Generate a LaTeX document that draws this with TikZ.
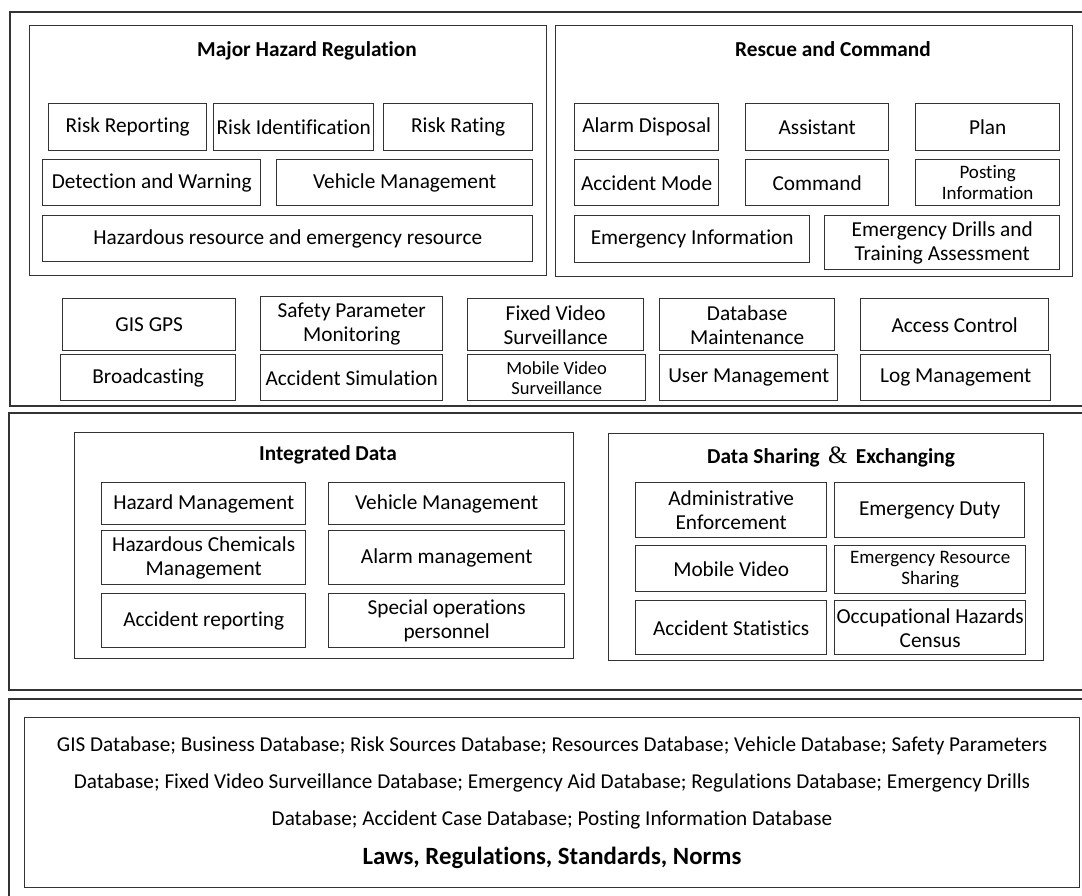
\documentclass[tikz,border=0pt]{standalone}
\usepackage{fontspec}
\setmainfont{Carlito}[Ligatures=NoCommon]
\newfontfamily\ampfont{Liberation Serif}
\usetikzlibrary{positioning}
\tikzset{
x=1pt, y=-1pt, % one unit per pixel, y grows downwards
panel/.style={draw=black!80, line width=1.4pt}, % the three open outer panels
cell/.style 2 args={draw=black!80, line width=1.4pt, minimum width=#1, minimum height=#2,
  inner sep=1pt, align=center, anchor=north west, font=\fontsize{21.3}{24}\selectfont}, % boxes
small/.style={font=\fontsize{18.5}{20}\selectfont}, % boxes with smaller text
title/.style={font=\bfseries\fontsize{21.3}{24}\selectfont}, % group headings
}

\begin{document}
\begin{tikzpicture}
    \useasboundingbox (0,0) rectangle (1082,896);

    % outer panels, open on the right
    \coordinate (p1a) at (1082,12);  \coordinate (p1b) at (10,12);
    \coordinate (p1c) at (10,406);   \coordinate (p1d) at (1082,406);
    \coordinate (p2a) at (1082,413); \coordinate (p2b) at (9,413);
    \coordinate (p2c) at (9,690);    \coordinate (p2d) at (1082,690);
    \coordinate (p3a) at (1082,699); \coordinate (p3b) at (9,699);
    \coordinate (p3c) at (9,896);
    \draw[panel] (p1a) -- (p1b) -- (p1c) -- (p1d);
    \draw[panel] (p2a) -- (p2b) -- (p2c) -- (p2d);
    \draw[panel] (p3a) -- (p3b) -- (p3c);

    % Major Hazard Regulation
    \node[cell={517}{250}] (mhr) at (29,25) {};
    \node[title] (mhrtitle) at (307,51) {Major Hazard Regulation};
    \node[cell={158}{47}] (riskrep) at (48,103) {Risk Reporting};
    \node[cell={160}{47}] (riskid) at (213,103) {Risk Identification};
    \node[cell={149}{47}] (riskrate) at (383,103) {Risk Rating};
    \node[cell={218}{46}] (detect) at (42,159) {Detection and Warning};
    \node[cell={256}{46}] (vehmgmt) at (276,159) {Vehicle Management};
    \node[cell={490}{46}] (hazres) at (42,215) {Hazardous resource and emergency resource};

    % Rescue and Command
    \node[cell={517}{251}] (rescue) at (555,25) {};
    \node[title] (rescuetitle) at (833,49) {Rescue and Command};
    \node[cell={144}{47}] (alarmdisp) at (574,103) {Alarm Disposal};
    \node[cell={143}{47}] (assistant) at (745,103) {Assistant};
    \node[cell={144}{47}] (plan) at (915,103) {Plan};
    \node[cell={144}{46}] (accmode) at (574,159) {Accident Mode};
    \node[cell={143}{46}] (command) at (745,159) {Command};
    \node[cell={144}{46}, font=\fontsize{19}{21}\selectfont] (posting) at (915,159) {Posting\\Information};
    \node[cell={235}{47}] (emerginfo) at (574,215) {Emergency Information};
    \node[cell={235}{54}] (drills) at (824,215) {Emergency Drills and\\Training Assessment};

    % common services
    \node[cell={173}{52}] (gisgps) at (62,298) {GIS GPS};
    \node[cell={175}{46}] (broadcast) at (60,354) {Broadcasting};
    \node[cell={182}{54}] (safety) at (260,296) {Safety Parameter\\Monitoring};
    \node[cell={182}{46}] (accsim) at (260,354) {Accident Simulation};
    \node[cell={176}{52}] (fixedvid) at (467,298) {Fixed Video\\Surveillance};
    \node[cell={178}{46}, small] (mobilevid) at (467,354) {Mobile Video\\Surveillance};
    \node[cell={175}{52}] (dbmaint) at (659,298) {Database\\Maintenance};
    \node[cell={178}{46}] (usermgmt) at (659,354) {User Management};
    \node[cell={188}{52}] (access) at (860,298) {Access Control};
    \node[cell={190}{46}] (logmgmt) at (860,354) {Log Management};

    % Integrated Data
    \node[cell={499}{226}] (integ) at (74,432) {};
    \node[title] (integtitle) at (328,455) {Integrated Data};
    \node[cell={204}{42}] (hazmgmt) at (101,482) {Hazard Management};
    \node[cell={236}{42}] (vehmgmt2) at (328,482) {Vehicle Management};
    \node[cell={204}{54}] (hazchem) at (101,530) {Hazardous Chemicals\\Management};
    \node[cell={236}{54}] (alarmmgmt) at (328,530) {Alarm management};
    \node[cell={204}{54}] (accrep) at (101,593) {Accident reporting};
    \node[cell={236}{54}] (specops) at (328,593) {Special operations\\personnel};

    % Data Sharing & Exchanging
    \node[cell={435}{227}] (share) at (608,433) {};
    \node[title] (sharetitle) at (831,457) {Data Sharing \,{\ampfont\mdseries\fontsize{25}{25}\selectfont\&}\, Exchanging};
    \node[cell={191}{55}] (admin) at (635,482) {Administrative\\Enforcement};
    \node[cell={190}{55}] (duty) at (834,482) {Emergency Duty};
    \node[cell={191}{46}] (mobvid) at (635,545) {Mobile Video};
    \node[cell={191}{48}, font=\fontsize{19}{21}\selectfont] (ressharing) at (834,545) {Emergency Resource\\Sharing};
    \node[cell={191}{54}] (accstat) at (635,600) {Accident Statistics};
    \node[cell={191}{54}] (occup) at (834,600) {Occupational Hazards\\Census};

    % databases and norms
    \node[cell={1055}{170}] (dbbox) at (24,717) {};
    \node[align=center, font=\fontsize{21.2}{37}\selectfont] (dbtext) at (552,783)
        {GIS Database; Business Database; Risk Sources Database; Resources Database; Vehicle Database; Safety Parameters\\
         Database; Fixed Video Surveillance Database; Emergency Aid Database; Regulations Database; Emergency Drills\\
         Database; Accident Case Database; Posting Information Database};
    \node[font=\bfseries\fontsize{24.8}{28}\selectfont] (laws) at (552,858) {Laws, Regulations, Standards, Norms};

\end{tikzpicture}
\end{document}
